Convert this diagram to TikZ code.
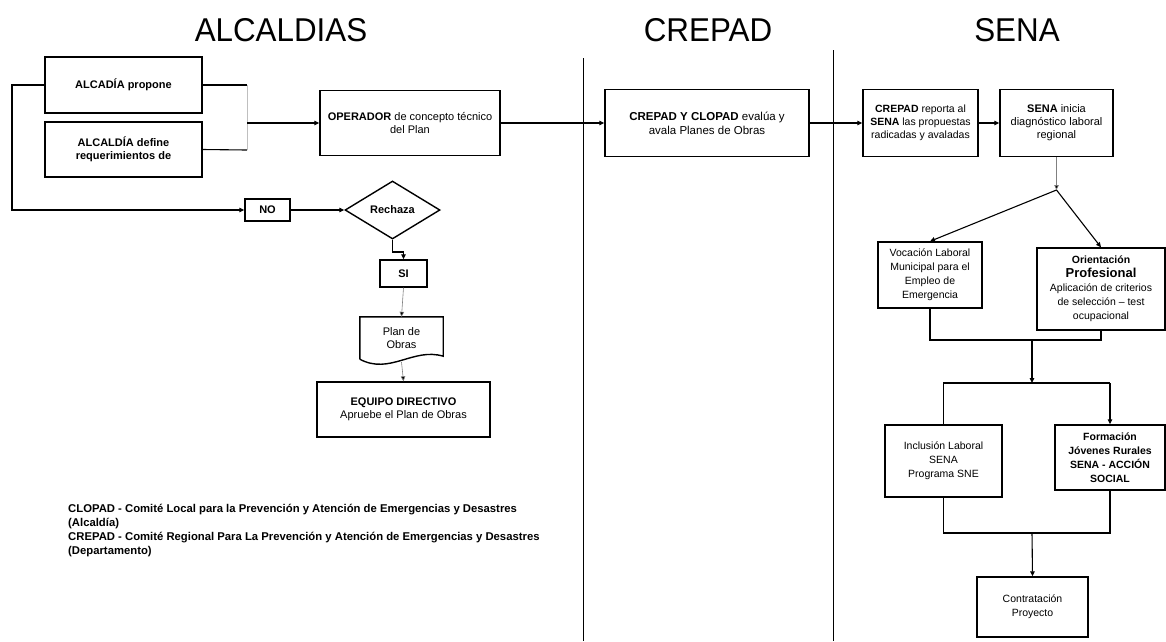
\documentclass[tikz,border=0pt]{standalone}
\usepackage{fontspec}
\setmainfont{Liberation Sans}
\usetikzlibrary{shapes.geometric,arrows.meta,calc}
\newcommand{\sm}{\fontsize{11}{13}\selectfont\bfseries}
\begin{document}
\begin{tikzpicture}[x=1pt,y=-1pt,
  box/.style={draw, line width=1.4pt, fill=white, align=center, font=\sm, inner sep=0pt},
  lnk/.style={line width=1.1pt},
  arr/.style={line width=1.1pt, -{Triangle[length=5pt,width=4.5pt]}},
  faint/.style={line width=0.5pt, gray!50},
  farr/.style={line width=0.6pt, gray, -{Triangle[length=5pt,width=4.5pt,fill=black]}},
  ttl/.style={font=\fontsize{33}{36}\selectfont}]
\useasboundingbox (0,0) rectangle (1166,641);
% titles
\node[ttl] (t1) at (281,30) {\scalebox{0.95}[1]{ALCALDIAS}};
\node[ttl] (t2) at (708,30) {\scalebox{0.95}[1]{CREPAD}};
\node[ttl] (t3) at (1017,30) {\scalebox{0.95}[1]{SENA}};
% lane separators
\draw[line width=0.7pt] (583,58) -- (583,641);
\draw[line width=0.7pt] (833,50) -- (833,641);
% ALCALDIAS lane
\node[box, minimum width=157, minimum height=56] (a1) at (123.5,85) {ALCADÍA propone};
\node[box, minimum width=157, minimum height=55] (a2) at (123.5,149.5) {ALCALDÍA define\\requerimientos de};
\node[box, minimum width=180, minimum height=65] (op) at (410,123) {OPERADOR {\mdseries de concepto técnico}\\{\mdseries del Plan}};
\node[box, minimum width=45, minimum height=22] (no) at (267.5,210) {NO};
\node[draw, line width=1.4pt, fill=white, shape=diamond, minimum width=95, minimum height=58, inner sep=0pt, font=\sm] (rech) at (392.5,210) {Rechaza};
\node[box, minimum width=47, minimum height=27] (si) at (403.5,273.5) {SI};
\node[font=\sm, align=center, minimum width=83, minimum height=42, inner sep=0pt] (plan) at (401.5,338) {};
\draw[line width=1.4pt, fill=white] (plan.south west) -- (plan.north west) -- (plan.north east) -- ($(plan.south east)+(0,-3)$)
  .. controls ($(plan.south east)+(-30,-12)$) and ($(plan.south west)+(30,16)$) .. (plan.south west);
\node[font=\sm, align=center] (plantxt) at (plan.center) {\mdseries Plan de\\\mdseries Obras};
\node[box, minimum width=173, minimum height=55] (eq) at (403.5,409.5) {EQUIPO DIRECTIVO\\{\mdseries Apruebe el Plan de Obras}};
% legend
\node[anchor=north west, align=left, font=\fontsize{11.3}{14}\selectfont\bfseries, inner sep=0pt] (leg) at (68,504)
 {CLOPAD - Comité Local para la Prevención y Atención de Emergencias y Desastres\\
  (Alcaldía)\\
  CREPAD - Comité Regional Para La Prevención y Atención de Emergencias y Desastres\\
  (Departamento)};
% CREPAD lane
\node[box, minimum width=204, minimum height=67, font=\fontsize{11.5}{14}\selectfont\bfseries] (cr) at (707,123) {CREPAD Y CLOPAD {\mdseries evalúa y}\\{\mdseries avala Planes de Obras}};
% SENA lane
\node[box, minimum width=115, minimum height=67, font=\fontsize{10.5}{13}\selectfont] (s1) at (920.5,123) {\textbf{CREPAD} reporta al\\\textbf{SENA} las propuestas\\radicadas y avaladas};
\node[box, minimum width=113, minimum height=67, font=\fontsize{11}{13}\selectfont] (s2) at (1056.5,123) {\textbf{SENA} inicia\\diagnóstico laboral\\regional};
\node[box, minimum width=104, minimum height=66, font=\fontsize{10.5}{14}\selectfont] (voc) at (930,275) {Vocación Laboral\\Municipal para el\\Empleo de\\Emergencia};
\node[box, minimum width=128, minimum height=82, font=\fontsize{10.5}{14}\selectfont] (ori) at (1101,289) {\textbf{Orientación}\\{\fontsize{13}{15}\selectfont\bfseries Profesional}\\Aplicación de criterios\\de selección -- test\\ocupacional};
\node[box, minimum width=117, minimum height=72, font=\fontsize{10.5}{14}\selectfont] (inc) at (943.5,461) {Inclusión Laboral\\SENA\\Programa SNE};
\node[box, minimum width=110, minimum height=65, font=\fontsize{10.5}{14}\selectfont\bfseries] (form) at (1110,457.5) {Formación\\Jóvenes Rurales\\SENA - ACCIÓN\\SOCIAL};
\node[box, minimum width=111, minimum height=60, font=\fontsize{10.5}{14}\selectfont] (con) at (1032.5,607) {Contratación\\Proyecto};
% coordinates
\coordinate (j1) at (247,85);
\coordinate (j2) at (247,150);
\coordinate (j) at (247,123);
\coordinate (loop) at (12,85);
\coordinate (r1) at (392.5,252);
\coordinate (fork) at (1056.5,190);
\coordinate (m1) at (1032,340);
\coordinate (m2) at (1032,383);
\coordinate (m3) at (1032,533);
% connectors ALCALDIAS
\draw[lnk] (a1.east) -- (j1);
\draw[lnk] (a2.east) -- (j2);
\draw[faint] (j1) -- (j2);
\draw[arr] (j) -- (op.west);
\draw[arr] (a1.west) -- (loop) |- (no.west);
\draw[arr] (no.east) -- (rech.west);
\draw[arr] (rech.south) -- (r1) -| (si.north);
\draw[farr] (si.south) -- (plan.north);
\draw[farr] ($(plan.south)+(0,3)$) -- (eq.north);
% connectors across lanes
\draw[arr] (op.east) -- (cr.west);
\draw[arr] (cr.east) -- (s1.west);
\draw[arr] (s1.east) -- (s2.west);
% SENA flow
\draw[farr] (s2.south) -- (fork);
\draw[arr] (fork) -- (voc.north);
\draw[arr] (fork) -- (ori.north);
\draw[lnk] (voc.south) -- (voc.south |- m1) -- (ori.south |- m1) -- (ori.south);
\draw[arr] (m1) -- (m2);
\draw[lnk] (inc.north) -- (inc.north |- m2) -- (form.north |- m2);
\draw[arr] (form.north |- m2) -- (form.north);
\draw[lnk] (inc.south) -- (inc.south |- m3) -- (form.south |- m3) -- (form.south);
\draw[arr] (m3) -- (con.north);
\end{tikzpicture}
\end{document}
